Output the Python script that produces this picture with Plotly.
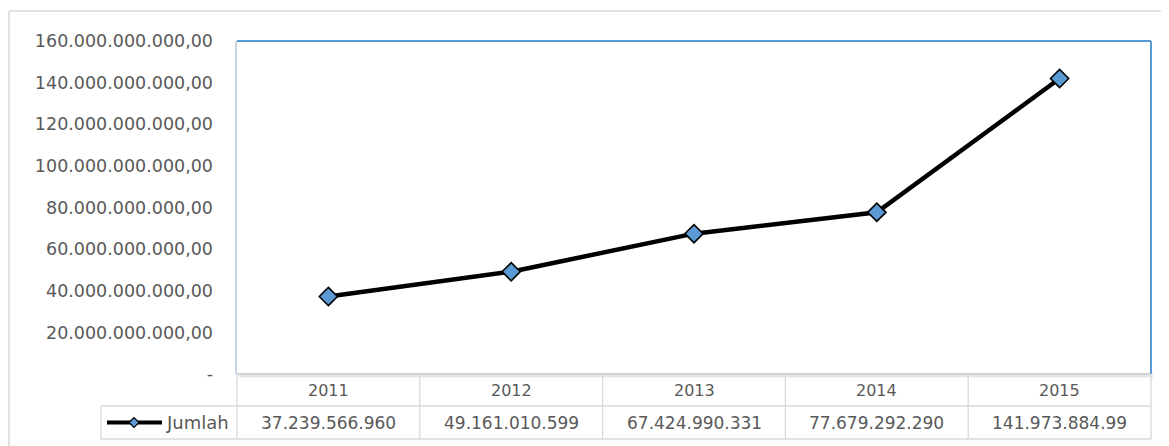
import plotly.graph_objects as go

# ---- data ----
years = ["2011", "2012", "2013", "2014", "2015"]
jumlah = [37239566960, 49161010599, 67424990331, 77679292290, 141973884990]
table_labels = ["37.239.566.960", "49.161.010.599", "67.424.990.331", "77.679.292.290", "141.973.884.99"]
series_name = "Jumlah"
y_tickvals = [0, 20e9, 40e9, 60e9, 80e9, 100e9, 120e9, 140e9, 160e9]
y_ticktext = ["-", "20.000.000.000,00", "40.000.000.000,00", "60.000.000.000,00",
              "80.000.000.000,00", "100.000.000.000,00", "120.000.000.000,00",
              "140.000.000.000,00", "160.000.000.000,00"]

# ---- layout geometry (page pixels; page body has an 8px margin) ----
OFF = 8
W, H = 1169 - OFF, 446 - OFF
L, R, T, B = 237, 1151, 41, 374
FONT = "DejaVu Sans"
TXT = "#595959"
GRID = "#D9D9D9"
BLUE = "#5B9BD5"

def px(x):
    return (x - L) / (R - L)

def py(y):
    return (B - y) / (B - T)

fig = go.Figure()
fig.add_trace(go.Scatter(
    x=years, y=jumlah, mode="lines+markers", name=series_name,
    line=dict(color="black", width=4.5),
    marker=dict(symbol="diamond", size=14, color=BLUE, line=dict(color="black", width=1.6)),
    showlegend=False, cliponaxis=False,
))

shapes = []
def line(x0, y0, x1, y1, color=GRID, width=1.3):
    shapes.append(dict(type="line", xref="paper", yref="paper",
                       x0=px(x0), y0=py(y0), x1=px(x1), y1=py(y1),
                       line=dict(color=color, width=width)))

# outer chart frame
line(9, 11, 1300, 11, "#D9D9D9", 1.5)
line(9, 11, 9, 600, "#D9D9D9", 1.5)

# plot area shadow + border
line(L + 2, B + 2, R + 2, B + 2, "#E3E6EA", 3)
line(L - 1, T, L - 1, B, "#C9D3DF", 2)
line(L, B, R, B, "#B8C3CF", 2)
line(L, T, R, T, BLUE, 2)
line(R, T, R, B, BLUE, 2)

# data table
row1_top, row_mid, row_bot = B, 406, 439
col_edges = [L + (R - L) * i / len(years) for i in range(len(years) + 1)]
for xe in col_edges:
    line(xe, row1_top, xe, row_bot)
line(L, row1_top, R, row1_top)
line(101, row_mid, R, row_mid)
line(101, row_bot, R, row_bot)
line(101, row_mid, 101, row_bot)

annotations = []
for i, yr in enumerate(years):
    cx = (col_edges[i] + col_edges[i + 1]) / 2
    annotations.append(dict(x=px(cx), y=py((row1_top + row_mid) / 2), xref="paper", yref="paper",
                            text=yr, showarrow=False, xanchor="center", yanchor="middle",
                            font=dict(family=FONT, size=16, color=TXT)))
    annotations.append(dict(x=px(cx), y=py((row_mid + row_bot) / 2), xref="paper", yref="paper",
                            text=table_labels[i], showarrow=False, xanchor="center", yanchor="middle",
                            font=dict(family=FONT, size=17, color=TXT)))

# legend key in table
ly = (row_mid + row_bot) / 2
line(107, ly, 162, ly, "black", 4)
shapes.append(dict(type="path", xref="paper", yref="paper",
                   path="M {} {} L {} {} L {} {} L {} {} Z".format(
                       px(134 - 5), py(ly), px(134), py(ly - 5), px(134 + 5), py(ly), px(134), py(ly + 5)),
                   fillcolor=BLUE, line=dict(color="black", width=1.2)))
annotations.append(dict(x=px(164), y=py(ly), xref="paper", yref="paper", text=series_name,
                        showarrow=False, xanchor="left", yanchor="middle",
                        font=dict(family=FONT, size=18, color=TXT)))

fig.update_layout(
    width=W, height=H,
    margin=dict(l=L - OFF, r=W - (R - OFF), t=T - OFF, b=H - (B - OFF), pad=0),
    paper_bgcolor="white", plot_bgcolor="white",
    font=dict(family=FONT, size=17, color=TXT),
    xaxis=dict(type="category", range=[-0.5, 4.5], showticklabels=False, showgrid=False,
               zeroline=False, showline=False, ticks=""),
    yaxis=dict(range=[0, 160e9], tickvals=y_tickvals, ticktext=y_ticktext, showgrid=False,
               zeroline=False, showline=False, ticks="", ticklabelstandoff=23,
               tickfont=dict(family=FONT, size=17.5, color=TXT)),
    shapes=shapes, annotations=annotations,
)

fig.write_html("out.html")
